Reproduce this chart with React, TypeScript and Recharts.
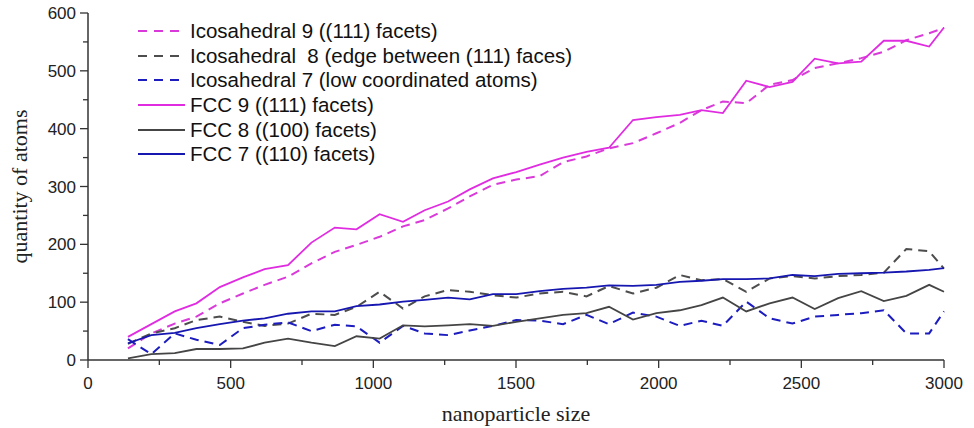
import { LineChart, Line, XAxis, YAxis } from 'recharts'

// nanoparticle sizes (x) shared by all series
const sizes = [140, 222, 304, 380, 462, 543, 619, 701, 783, 865, 941, 1022, 1104, 1180, 1262, 1338, 1419, 1501, 1583, 1665, 1747, 1826, 1910, 1992, 2074, 2150, 2225, 2307, 2389, 2469, 2547, 2629, 2710, 2789, 2868, 2948, 3000]

const icosa9 = [20, 46, 63, 75, 98, 115, 130, 144, 167, 187, 199, 213, 231, 242, 262, 283, 303, 312, 318, 342, 352, 366, 375, 392, 410, 432, 447, 444, 476, 484, 505, 513, 522, 533, 553, 565, 574]
const icosa8 = [28, 46, 55, 69, 75, 66, 59, 63, 80, 78, 92, 118, 89, 110, 121, 118, 112, 108, 115, 118, 110, 128, 115, 125, 147, 138, 140, 118, 141, 145, 141, 145, 147, 151, 192, 188, 158]
const icosa7 = [36, 10, 46, 35, 26, 55, 61, 65, 50, 61, 58, 30, 59, 46, 43, 51, 59, 69, 68, 62, 78, 62, 82, 75, 59, 68, 59, 101, 72, 63, 75, 78, 81, 86, 46, 46, 84]
const fcc9 = [40, 62, 84, 98, 126, 143, 157, 164, 203, 229, 226, 252, 239, 259, 274, 295, 314, 325, 338, 350, 360, 367, 415, 420, 424, 432, 427, 483, 472, 481, 521, 513, 516, 552, 552, 542, 575]
const fcc8 = [3, 10, 12, 19, 19, 20, 30, 37, 30, 24, 41, 37, 60, 58, 60, 62, 59, 66, 72, 78, 81, 92, 70, 81, 86, 95, 108, 84, 98, 108, 88, 107, 119, 102, 111, 130, 118]
const fcc7 = [29, 43, 47, 55, 62, 68, 72, 80, 84, 84, 93, 96, 101, 104, 108, 105, 114, 114, 119, 123, 125, 129, 128, 130, 135, 137, 140, 140, 141, 147, 145, 149, 150, 151, 153, 156, 159]

const xTicks = [0, 250, 500, 750, 1000, 1250, 1500, 1750, 2000, 2250, 2500, 2750, 3000]
const yTicks = [0, 50, 100, 150, 200, 250, 300, 350, 400, 450, 500, 550, 600]

const SERIES = [
  { key: 'icosa9', name: 'Icosahedral 9 ((111) facets)', color: '#d93ad9', dash: '9 6', values: icosa9 },
  { key: 'icosa8', name: 'Icosahedral  8 (edge between (111) faces)', color: '#4d4d4d', dash: '9 6', values: icosa8 },
  { key: 'icosa7', name: 'Icosahedral 7 (low coordinated atoms)', color: '#1c1cbf', dash: '9 6', values: icosa7 },
  { key: 'fcc9', name: 'FCC 9 ((111) facets)', color: '#e02ce0', dash: undefined, values: fcc9 },
  { key: 'fcc8', name: 'FCC 8 ((100) facets)', color: '#454545', dash: undefined, values: fcc8 },
  { key: 'fcc7', name: 'FCC 7 ((110) facets)', color: '#1616b0', dash: undefined, values: fcc7 },
]

const data = sizes.map((size, i) => {
  const row: Record<string, number> = { size }
  SERIES.forEach(s => { row[s.key] = s.values[i] })
  return row
})

const TICK_FONT = "'Liberation Sans Narrow', 'Liberation Sans', Arial, sans-serif"
const TITLE_FONT = "'Liberation Serif', 'Times New Roman', serif"
const AXIS = '#333'

function XTick({ x, y, payload }: any) {
  const major = payload.value % 500 === 0
  return (
    <g>
      <line x1={x} y1={y} x2={x} y2={y + (major ? 8 : 5)} stroke={AXIS} strokeWidth={1.3} />
      {major && (
        <text x={x} y={y + 29} textAnchor="middle" fontSize={17} fontFamily={TICK_FONT} fill="#222">
          {payload.value}
        </text>
      )}
    </g>
  )
}

function YTick({ x, y, payload }: any) {
  const major = payload.value % 100 === 0
  return (
    <g>
      <line x1={x} y1={y} x2={x - (major ? 8 : 5)} y2={y} stroke={AXIS} strokeWidth={1.3} />
      {major && (
        <text x={x - 12} y={y + 6} textAnchor="end" fontSize={17} fontFamily={TICK_FONT} fill="#222">
          {payload.value}
        </text>
      )}
    </g>
  )
}

function LegendBox() {
  return (
    <div
      style={{
        position: 'absolute', left: 136, top: 18.5,
        fontFamily: "'Liberation Sans', Arial, sans-serif", fontSize: 20.5, color: '#111',
      }}
    >
      {SERIES.map(s => (
        <div key={s.key} style={{ display: 'flex', alignItems: 'center', height: 24.7 }}>
          <svg width={52} height={10} style={{ marginRight: 2 }}>
            <line x1={2} y1={5} x2={49} y2={5} stroke={s.color} strokeWidth={2} strokeDasharray={s.dash ? '9 7' : undefined} />
          </svg>
          <span style={{ whiteSpace: 'pre' }}>{s.name}</span>
        </div>
      ))}
    </div>
  )
}

export default function App() {
  return (
    <div style={{ position: 'absolute', left: 0, top: 0, width: 974, height: 428, background: '#fff' }}>
      <LineChart width={974} height={428} data={data} margin={{ top: 13, right: 30, bottom: 38, left: 28 }}>
        <XAxis
          dataKey="size"
          type="number"
          domain={[0, 3000]}
          ticks={xTicks}
          interval={0}
          height={30}
          tickSize={0}
          tickMargin={0}
          tick={<XTick />}
          tickLine={false}
          axisLine={{ stroke: AXIS, strokeWidth: 1.5 }}
          label={{
            content: ({ viewBox }: any) => (
              <text x={viewBox.x + viewBox.width / 2} y={421} textAnchor="middle" fontSize={22} fontFamily={TITLE_FONT} fill="#222">
                nanoparticle size
              </text>
            ),
          }}
        />
        <YAxis
          type="number"
          domain={[0, 600]}
          ticks={yTicks}
          interval={0}
          width={60}
          tickSize={0}
          tickMargin={0}
          tick={<YTick />}
          tickLine={false}
          axisLine={{ stroke: AXIS, strokeWidth: 1.5 }}
          label={{
            content: ({ viewBox }: any) => {
              const cy = viewBox.y + viewBox.height / 2
              return (
                <text x={27} y={cy} transform={`rotate(-90 27 ${cy})`} textAnchor="middle" fontSize={22} fontFamily={TITLE_FONT} fill="#222">
                  quantity of atoms
                </text>
              )
            },
          }}
        />
        {SERIES.map(s => (
          <Line
            key={s.key}
            dataKey={s.key}
            name={s.name}
            type="linear"
            stroke={s.color}
            strokeWidth={s.dash ? 2 : 1.8}
            strokeDasharray={s.dash}
            dot={false}
            activeDot={false}
            isAnimationActive={false}
          />
        ))}
      </LineChart>
      <LegendBox />
    </div>
  )
}
